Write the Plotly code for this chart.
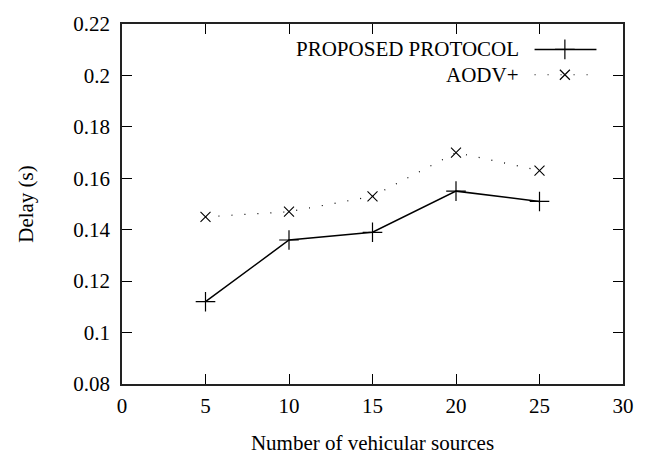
import plotly.graph_objects as go

# Delay versus number of vehicular sources
sources = [5, 10, 15, 20, 25]
delay_proposed = [0.112, 0.136, 0.139, 0.155, 0.151]
delay_aodv = [0.145, 0.147, 0.153, 0.170, 0.163]
series_names = ["PROPOSED PROTOCOL", "AODV+"]

FONT = dict(family="Liberation Serif, Times New Roman, serif", size=21, color="black")
DOT = "1px,12px"

fig = go.Figure()

fig.add_trace(go.Scatter(
    x=sources, y=delay_proposed, mode="lines+markers", name=series_names[0],
    line=dict(color="black", width=1.5),
    marker=dict(symbol="cross-thin", size=14, line=dict(color="black", width=1.2)),
    showlegend=False,
))
fig.add_trace(go.Scatter(
    x=sources, y=delay_aodv, mode="lines+markers", name=series_names[1],
    line=dict(color="black", width=1.2, dash=DOT),
    marker=dict(symbol="x-thin", size=10, line=dict(color="black", width=1.1)),
    showlegend=False,
))

# gnuplot-style key: right-aligned label followed by a line sample
key_rows = [(0.9295, series_names[0], "cross-thin", 14, dict(color="black", width=1.5)),
            (0.859, series_names[1], "x-thin", 10, dict(color="black", width=1.2, dash=DOT))]
for ky, label, sym, size, ln in key_rows:
    fig.add_trace(go.Scatter(
        x=[0.8235, 0.947], y=[ky, ky], mode="lines", line=ln,
        xaxis="x2", yaxis="y2", showlegend=False, hoverinfo="skip",
    ))
    fig.add_trace(go.Scatter(
        x=[0.884], y=[ky], mode="markers",
        marker=dict(symbol=sym, size=size, color="black",
                    line=dict(color="black", width=1.2)),
        xaxis="x2", yaxis="y2", showlegend=False, hoverinfo="skip",
    ))
    fig.add_annotation(x=0.797, y=ky, xref="x2", yref="y2", text=label,
                       showarrow=False, xanchor="right", yanchor="middle",
                       font=FONT)

axis_common = dict(
    showline=True, linecolor="#222", linewidth=1.6, mirror="ticks",
    ticks="inside", ticklen=10, tickcolor="black", tickwidth=1,
    showgrid=False, zeroline=False, tickfont=FONT,
)

fig.update_layout(
    width=646, height=464,
    margin=dict(l=122, r=14, t=15, b=80),
    paper_bgcolor="white", plot_bgcolor="white",
    font=FONT,
    xaxis=dict(range=[0, 30], dtick=5, tick0=0, ticklabelstandoff=2,
               title=dict(text="Number of vehicular sources", font=FONT, standoff=18),
               **axis_common),
    yaxis=dict(range=[0.08, 0.22], dtick=0.02, tick0=0.08, ticklabelstandoff=6,
               title=dict(text="Delay (s)", font=FONT, standoff=34),
               **axis_common),
    xaxis2=dict(range=[0, 1], overlaying="x", visible=False),
    yaxis2=dict(range=[0, 1], overlaying="y", visible=False),
    showlegend=False,
)

fig.write_html("out.html")
